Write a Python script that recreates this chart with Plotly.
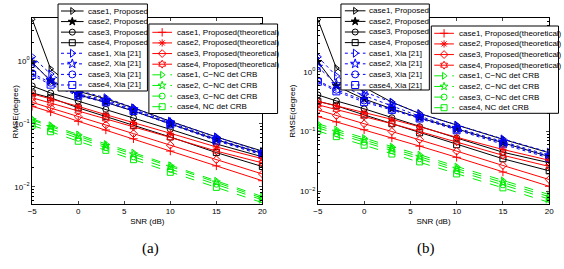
import plotly.graph_objects as go

snr = [-5, -3, 0, 3, 6, 10, 15, 20]
case_names = ["case1", "case2", "case3", "case4"]

# ---- panel (a) ----
a_proposed = [
    [4.6, 0.75, 0.33, 0.25, 0.18, 0.11, 0.062, 0.037],
    [0.95, 0.48, 0.29, 0.22, 0.16, 0.10, 0.056, 0.034],
    [0.40, 0.31, 0.23, 0.17, 0.125, 0.082, 0.048, 0.030],
    [0.31, 0.26, 0.18, 0.13, 0.095, 0.062, 0.035, 0.021],
]
a_xia = [
    [1.17, 0.62, 0.34, 0.26, 0.18, 0.11, 0.062, 0.036],
    [0.92, 0.50, 0.30, 0.24, 0.17, 0.105, 0.058, 0.034],
    [0.64, 0.45, 0.29, 0.23, 0.165, 0.10, 0.056, 0.033],
    [0.60, 0.42, 0.28, 0.22, 0.16, 0.098, 0.054, 0.032],
]
a_theory = [
    [0.19, 0.155, 0.11, 0.08, 0.058, 0.037, 0.0215, 0.0125],
    [0.30, 0.25, 0.19, 0.14, 0.105, 0.071, 0.043, 0.028],
    [0.22, 0.18, 0.13, 0.096, 0.070, 0.046, 0.027, 0.016],
    [0.26, 0.215, 0.16, 0.12, 0.09, 0.061, 0.037, 0.024],
]
a_crb = [
    [0.12, 0.095, 0.068, 0.048, 0.035, 0.022, 0.0125, 0.0070],
    [0.115, 0.09, 0.064, 0.045, 0.033, 0.021, 0.0118, 0.0066],
    [0.105, 0.083, 0.059, 0.042, 0.030, 0.019, 0.011, 0.0062],
    [0.095, 0.075, 0.053, 0.038, 0.027, 0.017, 0.0098, 0.0056],
]

# ---- panel (b) ----
b_proposed = [
    [7.5, 1.15, 0.55, 0.31, 0.20, 0.128, 0.074, 0.044],
    [1.47, 0.58, 0.35, 0.24, 0.17, 0.11, 0.064, 0.038],
    [0.41, 0.325, 0.24, 0.17, 0.12, 0.078, 0.045, 0.030],
    [0.32, 0.27, 0.19, 0.135, 0.095, 0.060, 0.035, 0.022],
]
b_xia = [
    [1.78, 0.85, 0.46, 0.31, 0.20, 0.128, 0.075, 0.045],
    [1.21, 0.62, 0.40, 0.27, 0.18, 0.115, 0.068, 0.040],
    [0.71, 0.50, 0.33, 0.24, 0.17, 0.11, 0.064, 0.038],
    [0.68, 0.47, 0.31, 0.23, 0.165, 0.105, 0.061, 0.036],
]
b_theory = [
    [0.178, 0.145, 0.107, 0.078, 0.057, 0.037, 0.021, 0.0121],
    [0.32, 0.27, 0.21, 0.16, 0.12, 0.08, 0.05, 0.033],
    [0.23, 0.185, 0.135, 0.10, 0.073, 0.047, 0.027, 0.0157],
    [0.28, 0.235, 0.18, 0.135, 0.10, 0.067, 0.04, 0.026],
]
b_crb = [
    [0.135, 0.108, 0.078, 0.056, 0.041, 0.026, 0.0152, 0.0088],
    [0.125, 0.10, 0.072, 0.052, 0.038, 0.024, 0.014, 0.0081],
    [0.115, 0.092, 0.066, 0.048, 0.035, 0.022, 0.0128, 0.0074],
    [0.102, 0.082, 0.059, 0.042, 0.031, 0.0195, 0.0114, 0.0065],
]

proposed_labels = [f"{c}, Proposed" for c in case_names]
xia_labels = [f"{c}, Xia [21]" for c in case_names]
theory_labels = [f"{c}, Proposed(theoretical)" for c in case_names]
crb_labels = ["case1, C\u2212NC det CRB", "case2, C\u2212NC det CRB",
              "case3, C\u2212NC det CRB", "case4, NC det CRB"]

BLACK, BLUE, RED, GREEN = "#000000", "#0000ff", "#ff0000", "#00ee00"
FONT = "Liberation Sans"
W, H = 564, 269

prop_sym = ["triangle-right-open", "star", "circle-open", "square-open"]
xia_sym = ["triangle-right-open", "star-open", "circle-open", "square-open"]
theo_sym = ["cross-thin-open", "asterisk-open", "diamond-open", "hexagram-open"]
crb_sym = ["triangle-right-open", "star-open", "circle-open", "square-open"]

# style of each group: (color, dash, symbols, marker size)
styles = {
    "prop": (BLACK, "solid", prop_sym, 6),
    "xia": (BLUE, "dot", xia_sym, 7),
    "theo": (RED, "solid", theo_sym, 6),
    "crb": (GREEN, "dash", crb_sym, 6),
}

fig = go.Figure()


def add_group(xa, ya, key, data, labels):
    color, dash, syms, msize = styles[key]
    for i in range(4):
        fig.add_trace(go.Scatter(
            x=snr, y=data[i], mode="lines+markers", name=labels[i], showlegend=False,
            line=dict(color=color, width=1, dash=dash),
            marker=dict(symbol=syms[i], size=msize, color=color, line=dict(color=color, width=1)),
            xaxis=xa, yaxis=ya))


for xa, ya, prop, xia, theo, crb in [("x", "y", a_proposed, a_xia, a_theory, a_crb),
                                     ("x2", "y2", b_proposed, b_xia, b_theory, b_crb)]:
    add_group(xa, ya, "prop", prop, proposed_labels)
    add_group(xa, ya, "xia", xia, xia_labels)
    add_group(xa, ya, "theo", theo, theory_labels)
    add_group(xa, ya, "crb", crb, crb_labels)

# ---- custom legends (drawn on a hidden pixel-space overlay axis) ----
annotations = []


def legend_box(box, sample, text_x, row0, row_step, entries):
    x0, y0, x1, y1 = box
    fig.add_trace(go.Scatter(
        x=[x0, x1, x1, x0, x0], y=[y0, y0, y1, y1, y0], mode="lines", fill="toself",
        fillcolor="white", line=dict(color=BLACK, width=1), showlegend=False,
        hoverinfo="skip", xaxis="x3", yaxis="y3"))
    r = 0
    for key, labels in entries:
        color, dash, syms, msize = styles[key]
        for i in range(4):
            yc = row0 + r * row_step
            s0, s1 = sample
            fig.add_trace(go.Scatter(
                x=[s0, (s0 + s1) / 2, s1], y=[yc, yc, yc], mode="lines+markers",
                line=dict(color=color, width=1, dash=dash),
                marker=dict(symbol=syms[i], size=msize, color=color, opacity=[0, 1, 0],
                            line=dict(color=color, width=1)),
                showlegend=False, hoverinfo="skip", xaxis="x3", yaxis="y3"))
            annotations.append(dict(
                text=labels[i], x=text_x / W, y=1 - yc / H, xref="paper", yref="paper",
                xanchor="left", yanchor="middle", showarrow=False,
                font=dict(family=FONT, size=8, color=BLACK)))
            r += 1


legend_box((54, 4, 145, 91), (57, 80), 82, 11, 10.57,
           [("prop", proposed_labels), ("xia", xia_labels)])
legend_box((146.5, 24, 277.5, 113.5), (150, 170), 173, 32.3, 10.63,
           [("theo", theory_labels), ("crb", crb_labels)])
legend_box((342, 4, 432, 90), (346, 367), 369, 10.8, 10.6,
           [("prop", proposed_labels), ("xia", xia_labels)])
legend_box((434, 26, 563.5, 113.3), (437, 457), 460, 33.3, 10.63,
           [("theo", theory_labels), ("crb", crb_labels)])

minor_vals = [m * 10 ** e for e in range(-3, 2) for m in range(2, 10)]
ydom = [1 - 203.5 / H, 1 - 18.3 / H]

xcommon = dict(range=[-5, 20], tickvals=[-5, 0, 5, 10, 15, 20], ticks="inside", ticklen=3,
               showline=True, linecolor=BLACK, linewidth=1, mirror="allticks",
               showgrid=False, zeroline=False, tickfont=dict(family=FONT, size=8, color=BLACK),
               title=dict(text="SNR (dB)", font=dict(family=FONT, size=8, color=BLACK), standoff=3))
ycommon = dict(type="log", tickvals=[0.01, 0.1, 1],
               ticktext=["10<sup>\u22122</sup>", "10<sup>\u22121</sup>", "10<sup>0</sup>"],
               ticks="inside", ticklen=3, showline=True, linecolor=BLACK, linewidth=1,
               mirror="allticks", showgrid=False, zeroline=False,
               tickfont=dict(family=FONT, size=8, color=BLACK),
               minor=dict(ticks="inside", ticklen=2, tickvals=minor_vals, tickcolor=BLACK, showgrid=False))

annotations += [
    dict(text="RMSE(degree)", textangle=-90, x=4 / W, y=1 - 111 / H, xref="paper", yref="paper",
         showarrow=False, font=dict(family=FONT, size=8, color=BLACK)),
    dict(text="RMSE(degree)", textangle=-90, x=292 / W, y=1 - 111 / H, xref="paper", yref="paper",
         showarrow=False, font=dict(family=FONT, size=8, color=BLACK)),
    dict(text="(a)", x=137 / W, y=1 - 259 / H, xref="paper", yref="paper",
         showarrow=False, font=dict(family="Liberation Serif", size=15, color=BLACK)),
    dict(text="(b)", x=440 / W, y=1 - 259 / H, xref="paper", yref="paper",
         showarrow=False, font=dict(family="Liberation Serif", size=15, color=BLACK)),
]

fig.update_layout(
    width=W, height=H, margin=dict(l=0, r=0, t=0, b=0),
    paper_bgcolor="white", plot_bgcolor="rgba(0,0,0,0)",
    showlegend=False,
    xaxis=dict(domain=[27.7 / W, 262 / W], anchor="y", **xcommon),
    yaxis=dict(domain=ydom, anchor="x", range=[-2.265, 0.678], **ycommon),
    xaxis2=dict(domain=[318.5 / W, 554 / W], anchor="y2", **xcommon),
    yaxis2=dict(domain=ydom, anchor="x2", range=[-2.205, 0.895], **ycommon),
    xaxis3=dict(domain=[0, 1], range=[0, W], visible=False, anchor="y3", fixedrange=True),
    yaxis3=dict(domain=[0, 1], range=[H, 0], visible=False, anchor="x3", fixedrange=True),
    annotations=annotations,
)

fig.write_html("out.html")
